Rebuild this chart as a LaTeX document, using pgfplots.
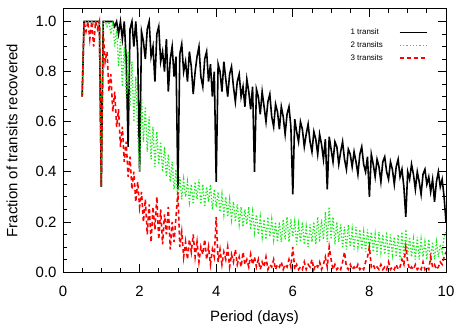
\documentclass[border=0pt]{standalone}
\usepackage{fontspec}
\setmainfont{Liberation Sans}
\usepackage{pgfplots}
\usepackage{pgfplotstable}
\pgfplotsset{compat=1.18}
\definecolor{gr}{RGB}{20,235,20}

% period, recovered fraction for 1, 2 and 3 transits
\pgfplotstableread{
P one two three
0.50 0.70 0.70 0.70
0.55 1.00 1.00 1.00
0.60 1.00 1.00 0.96
0.65 1.00 1.00 1.00
0.70 1.00 1.00 0.93
0.75 1.00 1.00 1.00
0.80 1.00 0.99 0.90
0.85 1.00 1.00 1.00
0.90 1.00 1.00 0.97
0.95 1.00 1.00 1.00
1.00 0.34 0.34 0.34
1.05 1.00 1.00 0.96
1.10 1.00 1.00 0.84
1.15 1.00 0.98 0.88
1.20 1.00 1.00 0.72
1.25 1.00 0.95 0.79
1.30 1.00 1.00 0.64
1.35 0.98 0.90 0.72
1.40 1.00 0.97 0.58
1.45 0.95 0.82 0.65
1.50 1.00 0.93 0.50
1.55 0.93 0.74 0.58
1.60 1.00 0.90 0.44
1.65 0.85 0.70 0.52
1.70 0.50 0.88 0.38
1.75 0.97 0.66 0.46
1.80 1.00 0.84 0.33
1.85 0.90 0.60 0.40
1.90 1.00 0.78 0.28
1.95 0.88 0.55 0.36
2.00 0.40 0.40 0.26
2.05 0.96 0.70 0.32
2.10 0.92 0.52 0.20
2.15 0.85 0.66 0.29
2.20 0.97 0.48 0.15
2.25 1.00 0.62 0.27
2.30 0.86 0.45 0.12
2.35 0.90 0.58 0.26
2.40 0.76 0.42 0.17
2.45 0.95 0.56 0.30
2.50 0.98 0.43 0.13
2.55 0.84 0.52 0.25
2.60 0.88 0.40 0.11
2.65 0.80 0.50 0.23
2.70 0.93 0.38 0.15
2.75 0.72 0.47 0.26
2.80 0.85 0.36 0.09
2.85 0.90 0.44 0.20
2.90 0.78 0.33 0.12
2.95 0.86 0.41 0.22
3.00 0.33 0.28 0.32
3.05 0.87 0.38 0.10
3.10 0.91 0.29 0.16
3.15 0.80 0.37 0.06
3.20 0.84 0.30 0.12
3.25 0.76 0.36 0.05
3.30 0.88 0.28 0.13
3.35 0.82 0.35 0.08
3.40 0.71 0.27 0.15
3.45 0.80 0.36 0.06
3.50 0.86 0.29 0.12
3.55 0.90 0.37 0.04
3.60 0.78 0.27 0.10
3.65 0.74 0.35 0.07
3.70 0.85 0.26 0.13
3.75 0.88 0.34 0.05
3.80 0.76 0.28 0.10
3.85 0.83 0.35 0.03
3.90 0.70 0.25 0.09
3.95 0.80 0.33 0.06
4.00 0.36 0.26 0.22
4.05 0.83 0.32 0.04
4.10 0.80 0.24 0.09
4.15 0.72 0.31 0.03
4.20 0.84 0.23 0.08
4.25 0.77 0.30 0.05
4.30 0.70 0.22 0.10
4.35 0.79 0.29 0.02
4.40 0.82 0.21 0.07
4.45 0.74 0.28 0.04
4.50 0.68 0.20 0.09
4.55 0.76 0.27 0.03
4.60 0.79 0.19 0.06
4.65 0.70 0.26 0.02
4.70 0.74 0.18 0.08
4.75 0.66 0.25 0.03
4.80 0.77 0.19 0.05
4.85 0.72 0.26 0.02
4.90 0.65 0.17 0.07
4.95 0.74 0.24 0.03
5.00 0.40 0.16 0.06
5.05 0.73 0.23 0.02
5.10 0.70 0.15 0.05
5.15 0.63 0.22 0.01
5.20 0.72 0.14 0.04
5.25 0.66 0.21 0.02
5.30 0.60 0.13 0.06
5.35 0.68 0.22 0.01
5.40 0.71 0.14 0.03
5.45 0.62 0.21 0.02
5.50 0.58 0.13 0.05
5.55 0.67 0.20 0.01
5.60 0.64 0.12 0.03
5.65 0.57 0.20 0.02
5.70 0.66 0.12 0.04
5.75 0.62 0.21 0.01
5.80 0.55 0.13 0.03
5.85 0.63 0.22 0.02
5.90 0.66 0.12 0.05
5.95 0.58 0.21 0.02
6.00 0.31 0.14 0.10
6.05 0.61 0.20 0.01
6.10 0.56 0.11 0.03
6.15 0.52 0.19 0.01
6.20 0.60 0.12 0.02
6.25 0.57 0.20 0.01
6.30 0.50 0.11 0.04
6.35 0.55 0.18 0.01
6.40 0.59 0.10 0.03
6.45 0.52 0.19 0.02
6.50 0.48 0.12 0.05
6.55 0.56 0.20 0.01
6.60 0.53 0.11 0.03
6.65 0.47 0.22 0.02
6.70 0.55 0.12 0.04
6.75 0.51 0.21 0.01
6.80 0.45 0.13 0.03
6.85 0.53 0.24 0.06
6.90 0.33 0.12 0.02
6.95 0.54 0.26 0.10
7.00 0.49 0.13 0.05
7.05 0.44 0.22 0.01
7.10 0.52 0.11 0.03
7.15 0.50 0.20 0.01
7.20 0.43 0.12 0.02
7.25 0.48 0.19 0.01
7.30 0.52 0.10 0.04
7.35 0.45 0.18 0.08
7.40 0.41 0.09 0.02
7.45 0.49 0.19 0.01
7.50 0.47 0.10 0.03
7.55 0.42 0.17 0.01
7.60 0.48 0.09 0.02
7.65 0.44 0.18 0.01
7.70 0.39 0.10 0.03
7.75 0.47 0.17 0.01
7.80 0.50 0.09 0.02
7.85 0.43 0.16 0.01
7.90 0.40 0.08 0.04
7.95 0.46 0.17 0.06
8.00 0.30 0.09 0.10
8.05 0.47 0.16 0.02
8.10 0.43 0.08 0.03
8.15 0.38 0.15 0.01
8.20 0.45 0.07 0.02
8.25 0.42 0.16 0.01
8.30 0.36 0.08 0.03
8.35 0.44 0.15 0.01
8.40 0.46 0.07 0.02
8.45 0.40 0.16 0.01
8.50 0.37 0.06 0.04
8.55 0.44 0.15 0.01
8.60 0.41 0.07 0.02
8.65 0.35 0.14 0.01
8.70 0.42 0.06 0.03
8.75 0.45 0.15 0.01
8.80 0.38 0.05 0.02
8.85 0.41 0.16 0.05
8.90 0.34 0.06 0.03
8.95 0.22 0.17 0.10
9.00 0.40 0.07 0.04
9.05 0.37 0.14 0.01
9.10 0.43 0.06 0.02
9.15 0.39 0.13 0.01
9.20 0.33 0.05 0.03
9.25 0.40 0.14 0.01
9.30 0.36 0.05 0.02
9.35 0.31 0.13 0.01
9.40 0.39 0.06 0.04
9.45 0.41 0.12 0.01
9.50 0.35 0.05 0.02
9.55 0.38 0.13 0.01
9.60 0.32 0.04 0.06
9.65 0.37 0.12 0.02
9.70 0.28 0.05 0.03
9.75 0.36 0.12 0.01
9.80 0.40 0.06 0.02
9.85 0.34 0.11 0.04
9.90 0.37 0.08 0.03
9.95 0.30 0.14 0.06
10.00 0.20 0.16 0.08
}\transits

\begin{document}
\begin{tikzpicture}
\begin{axis}[
  name=ax,
  scale only axis,
  width=383bp, height=263bp,
  xmin=0, xmax=10, ymin=0, ymax=1.05,
  xtick={0,2,...,10},
  ytick={0,0.2,...,1.0},
  minor x tick num=3,
  minor y tick num=3,
  major tick length=8bp,
  minor tick length=4bp,
  tick style={black, line width=0.8pt},
  axis line style={line width=1pt},
  font=\fontsize{15}{17}\selectfont,
  tick label style={font=\fontsize{15}{17}\selectfont},
  /pgf/number format/assume math mode=true,
  yticklabel style={/pgf/number format/fixed,
                    /pgf/number format/precision=1,
                    /pgf/number format/fixed zerofill},
  xticklabel shift=11bp,
  yticklabel shift=3bp,
  xlabel={Period (days)},
  ylabel={Fraction of transits recovered},
  xlabel style={at={(axis description cs:0.5,-0.175)}, anchor=center},
  ylabel style={at={(axis description cs:-0.133,0.5)}, anchor=center},
  legend style={draw=none, fill=none, at={(0.96,0.94)}, anchor=north east,
                font=\fontsize{8}{9}\selectfont, row sep=1.5bp,
                /tikz/every odd column/.append style={column sep=14bp}},
  legend plot pos=right,
  legend cell align=left,
  legend image code/.code={\draw[#1] (0bp,0bp) -- (27bp,0bp);},
]
\addplot[black, line width=1.6pt] table[x=P, y=one] {\transits};
\addplot[gr, dotted, line width=1.3pt] table[x=P, y=two] {\transits};
\addplot[red, line width=1.6pt, dash pattern=on 4pt off 3pt] table[x=P, y=three] {\transits};
\legend{1 transit, 2 transits, 3 transits}
\end{axis}
\path (ax.south west) ++(-63bp,-55bp) rectangle ++(458bp,327bp);
\end{tikzpicture}
\end{document}
